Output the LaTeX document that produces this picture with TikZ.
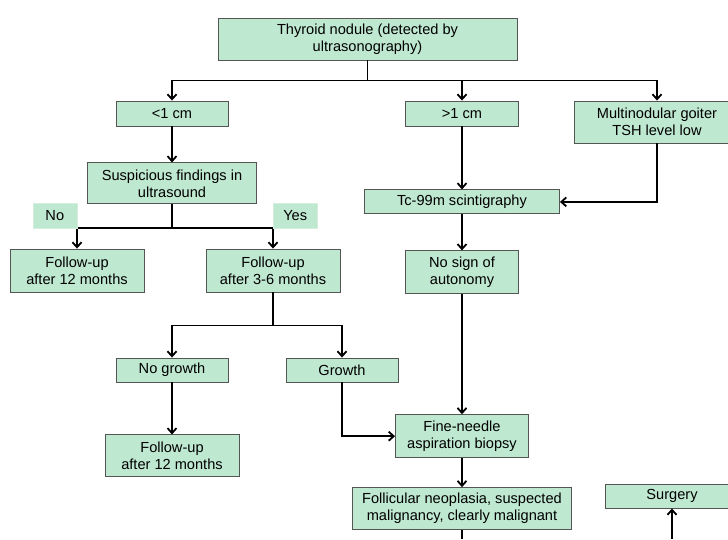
\documentclass[tikz,border=0pt]{standalone}
\usepackage{fontspec}
\setmainfont{Liberation Sans}
\usetikzlibrary{arrows.meta,positioning}
\definecolor{boxfill}{RGB}{191,232,208}
\definecolor{boxline}{RGB}{85,85,85}
\tikzset{
  box/.style={draw=boxline, fill=boxfill, line width=0.9pt, align=center, inner sep=2pt, font=\fontsize{14.6}{17}\selectfont},
  tag/.style={fill=boxfill, draw=boxfill!70, align=center, minimum width=44pt, minimum height=25pt, inner sep=0pt, font=\fontsize{14.6}{17}\selectfont},
  link/.style={line width=1.8pt},
  arrow/.style={-{Straight Barb[length=5pt,width=9pt]}, line width=1.8pt},
}

\begin{document}
\begin{tikzpicture}[x=1pt,y=-1pt]
\useasboundingbox (0,0) rectangle (728,539);
\node[box, minimum width=299pt, minimum height=42pt] (nodule) at (367.5,39) {Thyroid nodule (detected by\\ultrasonography)};
\node[box, minimum width=112pt, minimum height=25pt] (small) at (172,113.5) {<1 cm};
\node[box, minimum width=113pt, minimum height=25pt] (large) at (462,113.5) {>1 cm};
\node[box, minimum width=166pt, minimum height=42pt] (goiter) at (657,122) {Multinodular goiter\\TSH level low};
\node[box, minimum width=169pt, minimum height=41pt, below=36pt of small] (susp) {Suspicious findings in\\ultrasound};
\node[box, minimum width=134pt, minimum height=43pt] (followA) at (77,270.5) {Follow-up\\after 12 months};
\node[box, minimum width=134pt, minimum height=43pt] (followB) at (273,270.5) {Follow-up\\after 3-6 months};
\node[box, minimum width=195pt, minimum height=24pt, below=63pt of large] (scinti) {Tc-99m scintigraphy};
\node[box, minimum width=113pt, minimum height=43pt, below=36pt of scinti] (nosign) {No sign of\\autonomy};
\node[box, minimum width=112pt, minimum height=24pt] (nogrowth) at (172,370) {No growth};
\node[box, minimum width=112pt, minimum height=24pt] (growth) at (342,370) {Growth};
\node[box, minimum width=134pt, minimum height=42pt, below=52pt of nogrowth] (followC) {Follow-up\\after 12 months};
\node[box, minimum width=133pt, minimum height=43pt, below=120pt of nosign] (fna) {Fine-needle\\aspiration biopsy};
\node[box, minimum width=219pt, minimum height=42pt, below=29pt of fna] (follic) {Follicular neoplasia, suspected\\malignancy, clearly malignant};
\node[box, minimum width=134pt, minimum height=24pt] (surgery) at (672,496) {Surgery};

% first split
\draw[link] (nodule.south) -- ++(0,20) coordinate (fork1);
\draw[arrow] (fork1) -| (small.north);
\draw[arrow] (fork1) -| (large.north);
\draw[arrow] (fork1) -| (goiter.north);
\draw[arrow] (small) -- (susp);

% ultrasound split
\draw[link] (susp.south) -- ++(0,24) coordinate (fork2);
\draw[arrow] (fork2) -| (followA.north);
\draw[arrow] (fork2) -| (followB.north);
\coordinate (noturn) at (followA.north |- fork2);
\coordinate (yesturn) at (followB.north |- fork2);
\node[tag, above left=0pt of noturn] (no) {No};
\node[tag, above right=0pt of yesturn] (yes) {Yes};

\draw[arrow] (large) -- (scinti);
\draw[arrow] (goiter.south) |- (scinti.east);
\draw[arrow] (scinti) -- (nosign);
\draw[arrow] (nosign) -- (fna);

% growth split
\draw[link] (followB.south) -- ++(0,33) coordinate (fork3);
\draw[arrow] (fork3) -| (nogrowth.north);
\draw[arrow] (fork3) -| (growth.north);
\draw[arrow] (nogrowth) -- (followC);
\draw[arrow] (growth.south) |- (fna.west);
\draw[arrow] (fna) -- (follic);

% stubs at the bottom edge
\coordinate (footA) at (follic.south |- 0,539);
\coordinate (footB) at (surgery.south |- 0,539);
\draw[link] (follic.south) -- (footA);
\draw[arrow] (footB) -- (surgery.south);
\end{tikzpicture}
\end{document}
